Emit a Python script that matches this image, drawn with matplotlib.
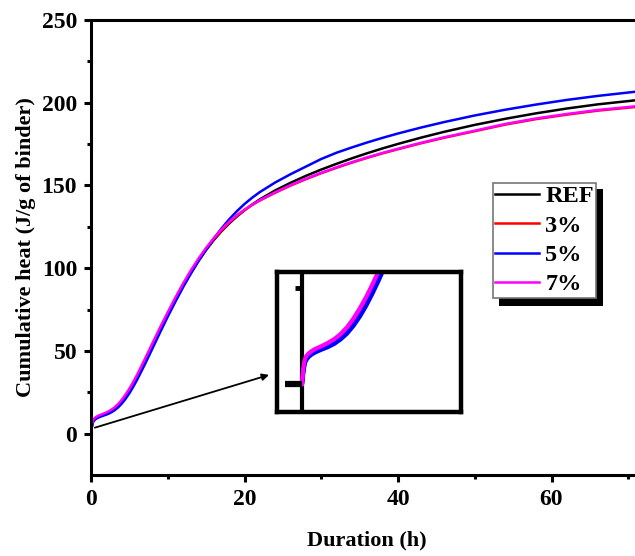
import numpy as np
import matplotlib
matplotlib.use("Agg")
import matplotlib.pyplot as plt
from matplotlib.patches import Rectangle

plt.rcParams['font.family'] = ['Liberation Serif', 'DejaVu Serif']
plt.rcParams['font.weight'] = 'bold'

# time (h)
t = [0, 0.05, 0.1, 0.2, 0.3, 0.5, 0.75, 1, 1.5, 2, 2.5, 3, 3.5, 4, 4.5, 5, 5.5,
     6, 7, 8, 9, 10, 11, 12, 13, 14, 15, 16, 17, 18, 19, 20, 21, 22, 24, 26,
     28, 30, 32, 34, 36, 38, 40, 43, 46, 50, 54, 58, 62, 66, 72]

# cumulative heat (J/g of binder)
ref = [0, 2, 4, 6.5, 7.8, 8.8, 9.6, 10.2, 11.1, 12.0, 13.1, 14.6, 16.6, 19.2,
       22.3, 25.8, 29.8, 34.1, 43.5, 53.2, 62.8, 72.0, 81.0, 89.5, 97.3, 104.5,
       111.0, 117.0, 122.3, 127.0, 131.2, 135.0, 138.5, 141.6, 147.0, 151.6,
       155.8, 159.6, 163.1, 166.4, 169.5, 172.4, 175.1, 178.9, 182.4, 186.6,
       190.3, 193.6, 196.5, 199.0, 202.0]
p3 = [0, 2.2, 4.4, 7.0, 8.2, 9.2, 10.0, 10.6, 11.5, 12.4, 13.6, 15.1, 17.2,
      19.8, 22.9, 26.5, 30.5, 34.8, 44.2, 53.9, 63.4, 72.6, 81.5, 89.9, 97.7,
      104.9, 111.5, 117.4, 122.7, 127.4, 131.5, 135.1, 138.2, 140.9, 145.6,
      149.9, 153.8, 157.4, 160.7, 163.8, 166.7, 169.4, 171.9, 175.5, 178.8,
      182.8, 186.8, 190.1, 192.8, 195.2, 197.9]
p5 = [0, 1.5, 3.5, 6.0, 7.3, 8.4, 9.2, 9.8, 10.7, 11.5, 12.5, 13.9, 15.7, 18.1,
      21.0, 24.4, 28.3, 32.5, 41.7, 51.4, 61.2, 70.7, 79.8, 88.5, 96.6, 104.2,
      111.3, 117.9, 124.0, 129.5, 134.4, 138.8, 142.6, 146.0, 151.8, 156.8,
      161.4, 166.0, 169.8, 173.0, 176.0, 178.8, 181.4, 185.0, 188.3, 192.3,
      195.8, 198.9, 201.7, 204.1, 207.2]
p7 = [0, 2.5, 4.8, 7.3, 8.5, 9.5, 10.3, 10.9, 11.8, 12.8, 14.0, 15.6, 17.7,
      20.4, 23.6, 27.2, 31.2, 35.5, 44.9, 54.6, 64.2, 73.4, 82.3, 90.8, 98.6,
      105.8, 112.3, 118.2, 123.4, 128.0, 132.0, 135.4, 138.4, 141.1, 145.9,
      150.2, 154.1, 157.7, 161.0, 164.1, 167.0, 169.7, 172.2, 175.8, 179.1,
      183.1, 187.2, 190.5, 193.2, 195.6, 198.3]

labels = ['REF', '3%', '5%', '7%']
colors = ['black', 'red', 'blue', 'magenta']
series = [ref, p3, p5, p7]

W, H = 635, 556
fig = plt.figure(figsize=(W / 100, H / 100), dpi=100)


def px(x0, y0, x1, y1):
    # pixel box (top-left origin) -> figure fraction rect
    return [x0 / W, 1 - y1 / H, (x1 - x0) / W, (y1 - y0) / H]


ax = fig.add_axes(px(91, 20, 643.6, 475))
for y, c, l in zip(series, colors, labels):
    ax.plot(t, y, color=c, lw=1.8, label=l)

ax.set_xlim(0, 72)
ax.set_ylim(-25, 250)
ax.set_xticks([0, 20, 40, 60])
ax.set_xticks([10, 30, 50, 70], minor=True)
ax.set_yticks(np.arange(0, 251, 50))
ax.set_yticks(np.arange(25, 250, 50), minor=True)
for s in ax.spines.values():
    s.set_linewidth(2.2)
ax.tick_params(which='major', length=5, width=2.2, labelsize=17, pad=5)
ax.tick_params(which='minor', length=3, width=2.2)
ax.tick_params(top=False, right=False)
ax.set_xlabel('Duration (h)', fontsize=16, fontweight='bold', labelpad=15)
ax.set_ylabel('Cumulative heat (J/g of binder)', fontsize=16,
              fontweight='bold', labelpad=4)

leg = ax.legend(loc='upper left', bbox_to_anchor=(493 / W, 1 - 183 / H),
                bbox_transform=fig.transFigure, borderaxespad=0,
                handlelength=1.8, handletextpad=0.25,
                labelspacing=0.3, borderpad=0.1, fancybox=False,
                prop={'size': 17.5, 'weight': 'bold'})
leg.get_frame().set_edgecolor('#777777')
leg.get_frame().set_linewidth(1.2)
leg.get_frame().set_alpha(1)
for h in leg.get_lines():
    h.set_linewidth(1.8)
ax.add_patch(Rectangle((499 / W, 1 - 306 / H), 104 / W, 117 / H,
                       transform=fig.transFigure, facecolor='black',
                       edgecolor='none', zorder=4.5, clip_on=False))

# arrow to the inset
ax.annotate('', xy=(23.2, 35.5), xytext=(0.5, 3.6),
            arrowprops=dict(arrowstyle='-|>', color='black', lw=1.3,
                            mutation_scale=10, shrinkA=0, shrinkB=0))

# inset: early hours
ins = fig.add_axes(px(277, 272, 461, 412))
for y, c in zip(series, colors):
    ins.plot(t, y, color=c, lw=3)
ins.set_xlim(-1.95, 12.4)
ins.set_ylim(-8.75, 35)
ins.axvline(0, color='black', lw=3, zorder=1)
ins.plot([-1.3, 0], [0, 0], color='black', lw=4.5, solid_capstyle='butt')
ins.plot([-0.55, 0], [30, 30], color='black', lw=3.5, solid_capstyle='butt')
ins.set_xticks([])
ins.set_yticks([])
for s in ins.spines.values():
    s.set_linewidth(3.2)

fig.savefig('out.png', dpi=100)
